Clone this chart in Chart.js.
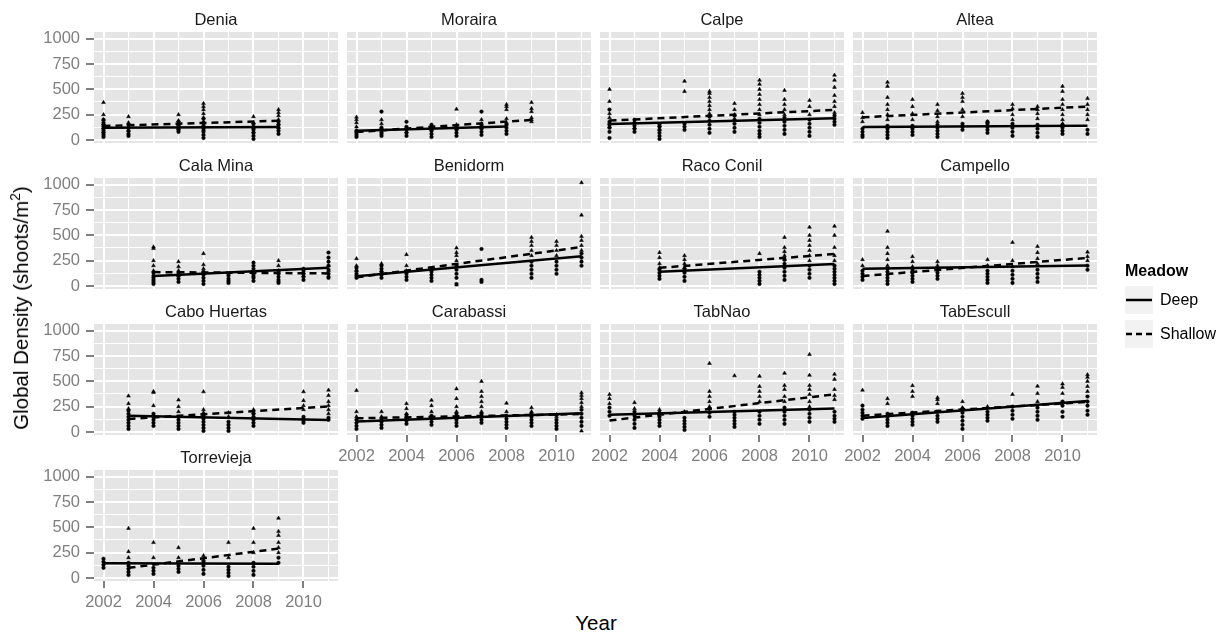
<!DOCTYPE html>
<html><head><meta charset="utf-8">
<script src="https://cdn.jsdelivr.net/npm/chart.js@4"></script>
<style>
body{margin:0;width:1227px;height:637px;background:#fff;position:relative;overflow:hidden;font-family:"Liberation Sans",Arial,sans-serif;}
canvas{position:absolute;}
.strip{position:absolute;font-size:16.5px;color:#1a1a1a;text-align:center;width:244px;line-height:20px;}
.axt{position:absolute;font-size:20.5px;color:#000;white-space:nowrap;}
</style></head><body>
<script>
const sites = ['Denia','Moraira','Calpe','Altea','Cala Mina','Benidorm','Raco Conil','Campello','Cabo Huertas','Carabassi','TabNao','TabEscull','Torrevieja'];
const xTicks = [2002,2003,2004,2005,2006,2007,2008,2009,2010,2011];
const yTicks = [0,125,250,375,500,625,750,875,1000];

// points: [year, [values]] — Deep (circles) and Shallow (triangles)
const deniaDeep = [[2002,[30,50,70,90,110,130,150,170,200]],[2003,[40,60,90,120,150]],[2005,[80,100,120,150,180]],[2006,[20,50,80,110,140,170,210]],[2008,[10,40,70,100,130,160]],[2009,[60,90,120,150,180]]];
const deniaShallow = [[2002,[80,120,160,200,250,370]],[2003,[90,130,170,230]],[2005,[110,150,190,250]],[2006,[100,140,180,220,260,300,330,360]],[2008,[80,120,170,230]],[2009,[120,160,200,240,270,300]]];
const morairaDeep = [[2002,[30,50,70,90]],[2003,[40,60,90,120,280]],[2004,[40,70,100,130,180]],[2005,[30,60,90,120,150]],[2006,[40,70,100,130]],[2007,[50,80,110,140,280]],[2008,[60,90,120,150]]];
const morairaShallow = [[2002,[90,130,170,200,225]],[2003,[80,120,160,200]],[2004,[80,120]],[2005,[100,140]],[2006,[110,150,304]],[2007,[120,160,200]],[2008,[170,210,300,330,350]],[2009,[180,200,220,280,310,370]]];
const calpeDeep = [[2002,[20,80,120,150,180,300]],[2003,[80,110,140,170,200]],[2004,[10,40,70,100,130,150]],[2005,[100,130,160]],[2006,[70,110,150,190,230]],[2007,[80,120,160,200,240]],[2008,[30,60,90,130,170,210]],[2009,[60,100,140,180,220]],[2010,[40,80,120,160,200]],[2011,[150,180,210,240]]];
const calpeShallow = [[2002,[130,170,220,260,380,500]],[2003,[120,170]],[2004,[100,140]],[2005,[480,580]],[2006,[260,300,340,380,420,460,480]],[2007,[200,250,300,360]],[2008,[250,300,350,400,450,500,550,590]],[2009,[250,300,350,400,490]],[2010,[250,330,390]],[2011,[270,330,380,440,520,590,640]]];
const alteaDeep = [[2002,[30,50,80,110]],[2003,[20,50,80,110,140]],[2004,[50,80,110,140]],[2005,[30,60,90,120,150]],[2006,[100,130,160]],[2007,[70,100,130,160,180]],[2008,[40,80,120,160]],[2009,[30,70,110,150]],[2010,[60,90,120,150]],[2011,[60,100]]];
const alteaShallow = [[2002,[180,220,270]],[2003,[200,250,300,350,420,530,570]],[2004,[200,260,330,400]],[2005,[180,230,290,350]],[2006,[230,300,380,420,460]],[2007,[180]],[2008,[200,250,310,350]],[2009,[210,260,300,330]],[2010,[160,200,250,300,350,400,480,530]],[2011,[200,250,300,350,410]]];
const calaMinaDeep = [[2004,[20,40,60,80,100,130]],[2005,[40,70,100,130]],[2006,[20,50,80,110,140]],[2007,[30,50,70,100,120]],[2008,[50,80,110,140,170,200,230]],[2009,[30,60,90,120]],[2010,[60,90,120,150,170]],[2011,[80,120,160,200,240,280,330]]];
const calaMinaShallow = [[2004,[150,200,250,370,385]],[2005,[100,150,190,240]],[2006,[130,170,210,320]],[2008,[100,150]],[2009,[50,150,200,250]],[2010,[100,130]],[2011,[100,150,200]]];
const benidormDeep = [[2002,[80,100,120,150,180]],[2003,[80,110,140,170,200]],[2004,[60,90,120]],[2005,[50,80,110,140,160]],[2006,[20,80,120,160,200]],[2007,[40,60,365]],[2009,[80,120,160,200,240]],[2010,[120,160,200,240]],[2011,[200,240,280,320]]];
const benidormShallow = [[2002,[150,200,270]],[2003,[150,220]],[2004,[150,200,310]],[2006,[10,250,300,330,375]],[2009,[300,350,400,440,480]],[2010,[300,350,400,440]],[2011,[350,400,450,490,700,1020]]];
const racoConilDeep = [[2004,[70,100,130,160]],[2005,[50,90,130,170]],[2008,[20,50,80,110,140]],[2009,[60,100,140,180,220,260]],[2010,[80,120,160,200]],[2011,[20,50,80,110,140,170,200]]];
const racoConilShallow = [[2004,[180,220,280,330]],[2005,[180,220,260,300]],[2008,[320]],[2009,[260,300,340,380,480]],[2010,[250,300,350,400,450,500,580]],[2011,[250,300,380,500,590]]];
const campelloDeep = [[2002,[60,90,120,150]],[2003,[20,50,80,110,140,170]],[2004,[40,70,100,130,160]],[2005,[70,100,130,160]],[2007,[30,60,90,120,150]],[2008,[30,70,110,150]],[2009,[40,80,120,160]],[2011,[160,200]]];
const campelloShallow = [[2002,[200,260]],[2003,[200,260,320,380,540]],[2004,[190,240,290]],[2005,[200,240]],[2007,[200,260]],[2008,[190,250,430]],[2009,[220,270,330,390]],[2011,[250,290,335]]];
const caboHuertasDeep = [[2003,[30,60,90,120,150,180,210]],[2004,[60,90,120,150,180]],[2005,[30,60,90,120,150]],[2006,[10,40,70,100,130,160]],[2007,[10,40,70,100]],[2008,[60,90,120,150,180]],[2010,[90,110,130,150]],[2011,[120,140]]];
const caboHuertasShallow = [[2003,[230,280,355]],[2004,[260,390,400]],[2005,[200,250,316]],[2006,[190,220,397]],[2007,[150,190]],[2008,[190,220]],[2010,[220,260,310,397]],[2011,[180,220,260,300,360,413]]];
const carabassiDeep = [[2002,[30,60,90,120]],[2003,[40,70,100,130]],[2004,[80,110,140,170]],[2005,[70,100,130,160]],[2006,[60,90,120,150,180]],[2007,[90,120,150,180]],[2008,[40,70,100,130,160]],[2009,[60,90,120,150,180]],[2010,[30,60,90,120]],[2011,[60,100,140,180,220]]];
const carabassiShallow = [[2002,[150,200,410]],[2003,[150,200]],[2004,[180,230,280]],[2005,[200,260,313]],[2006,[200,250,330,426]],[2007,[200,250,300,350,400,500]],[2008,[200,284]],[2009,[200,240]],[2010,[150,170]],[2011,[10,250,290,330,360,387]]];
const tabNaoDeep = [[2002,[160,200,240]],[2003,[40,80,120,160,200]],[2004,[60,90,120,150,180]],[2005,[20,50,80,110,140]],[2006,[150,190,230]],[2007,[50,80,110,140,170,200]],[2008,[80,120,160,200]],[2009,[80,120,160,200,240]],[2010,[100,140,180,220]],[2011,[100,130,160,200]]];
const tabNaoShallow = [[2002,[280,330,370]],[2003,[230,290]],[2004,[200,220]],[2005,[200]],[2006,[250,300,350,400,677]],[2007,[555]],[2008,[300,350,400,450,550]],[2009,[300,350,420,460,580]],[2010,[250,300,370,420,460,560,765]],[2011,[320,360,420,520,570]]];
const tabEscullDeep = [[2002,[130,160,190,220,260]],[2003,[60,90,120,150,180]],[2004,[70,100,130,160,190]],[2005,[100,130,160,200]],[2006,[30,70,110,150,190,230]],[2007,[110,140,170,200]],[2008,[130,170,210,250]],[2009,[120,160,200,240]],[2010,[150,200,260,300]],[2011,[170,210,260,300,350]]];
const tabEscullShallow = [[2002,[413]],[2003,[280,329]],[2004,[350,400,458]],[2005,[280,320,339]],[2006,[240,300]],[2007,[250]],[2008,[371]],[2009,[300,380,452]],[2010,[380,440,474]],[2011,[400,450,500,540,565]]];
const torreviejaDeep = [[2002,[100,130,160,190]],[2003,[30,60,90,120,150]],[2004,[40,70,100]],[2005,[60,90,120]],[2006,[40,80,120,160]],[2007,[20,50,80,110]],[2008,[30,70,110,150]],[2009,[150,200]]];
const torreviejaShallow = [[2003,[200,260,490]],[2004,[200,350]],[2005,[200,300]],[2006,[180,220]],[2007,[200,350]],[2008,[250,350,490]],[2009,[250,300,350,420,460,590]]];

// fitted lines: [startYear, startValue, endYear, endValue]
const deepFit = [[2002,120,2009,128],[2002,92,2008,132],[2002,158,2011,215],[2002,128,2011,140],[2004,98,2011,179],[2002,95,2011,293],[2004,140,2011,218],[2002,169,2011,202],[2003,161,2011,119],[2002,103,2011,184],[2002,171,2011,232],[2002,139,2011,306],[2002,145,2009,140]];
const shallowFit = [[2002,138,2009,190],[2002,78,2009,198],[2002,191,2011,297],[2002,224,2011,330],[2004,137,2011,124],[2002,85,2011,384],[2004,179,2011,316],[2002,98,2011,277],[2003,129,2011,252],[2002,135,2011,177],[2002,113,2011,371],[2002,161,2011,297],[2003,100,2009,290]];

const deepPts = [deniaDeep,morairaDeep,calpeDeep,alteaDeep,calaMinaDeep,benidormDeep,racoConilDeep,campelloDeep,caboHuertasDeep,carabassiDeep,tabNaoDeep,tabEscullDeep,torreviejaDeep];
const shallowPts = [deniaShallow,morairaShallow,calpeShallow,alteaShallow,calaMinaShallow,benidormShallow,racoConilShallow,campelloShallow,caboHuertasShallow,carabassiShallow,tabNaoShallow,tabEscullShallow,torreviejaShallow];

const colLeft = [94,347,600,853];
const rowTop = [32,178,324,470];
const PW = 244, PH = 111;
const FONT = '"Liberation Sans", Arial, sans-serif';

const bgPlugin = {
  id:'panelBg',
  beforeDraw(chart){
    const {ctx, chartArea:a} = chart;
    ctx.save(); ctx.fillStyle = '#e5e5e5'; ctx.fillRect(a.left, a.top, a.width, a.height); ctx.restore();
  }
};

function flat(groups){ return groups.flatMap(([yr, vals]) => vals.map(v => ({x:yr, y:v}))); }

sites.forEach((name, i) => {
  const col = i % 4, row = Math.floor(i / 4);
  const hasY = col === 0;
  const hasX = row === 3 || (row === 2 && col > 0);
  const leftExtra = hasY ? 94 : 20;
  const botExtra = hasX ? 36 : 12;
  const cv = document.createElement('canvas');
  cv.width = leftExtra + PW + 20; cv.height = 12 + PH + botExtra;
  cv.style.left = (colLeft[col] - leftExtra) + 'px';
  cv.style.top = (rowTop[row] - 12) + 'px';
  cv.style.width = cv.width + 'px'; cv.style.height = cv.height + 'px';
  document.body.appendChild(cv);

  const strip = document.createElement('div');
  strip.className = 'strip'; strip.textContent = name;
  strip.style.left = colLeft[col] + 'px'; strip.style.top = (rowTop[row] - 23) + 'px';
  document.body.appendChild(strip);

  const df = deepFit[i], sf = shallowFit[i];
  new Chart(cv, {
    type:'scatter',
    data:{ datasets:[
      {data:flat(deepPts[i]), pointStyle:'circle', pointRadius:1.8, backgroundColor:'#000', borderColor:'#000', borderWidth:0.5},
      {data:flat(shallowPts[i]), pointStyle:'triangle', pointRadius:2.2, backgroundColor:'#000', borderColor:'#000', borderWidth:0.5},
      {data:[{x:df[0],y:df[1]},{x:df[2],y:df[3]}], showLine:true, pointRadius:0, borderColor:'#000', borderWidth:2.5},
      {data:[{x:sf[0],y:sf[1]},{x:sf[2],y:sf[3]}], showLine:true, pointRadius:0, borderColor:'#000', borderWidth:2.5, borderDash:[7,5]}
    ]},
    options:{
      responsive:false, maintainAspectRatio:false, animation:false, devicePixelRatio:1,
      events:[],
      layout:{padding:{left: hasY ? 0 : 20, right:20, top:12, bottom: hasX ? 0 : 12}},
      plugins:{legend:{display:false}, tooltip:{enabled:false}},
      scales:{
        x:{ type:'linear', min:2001.62, max:2011.38,
          afterBuildTicks: s => { s.ticks = xTicks.map(v => ({value:v})); },
          afterFit: s => { s.height = hasX ? 36 : 0; s.paddingLeft = 0; s.paddingRight = 0; },
          border:{display:false},
          grid:{ color:'#ffffff', lineWidth: c => (c.tick && c.tick.value % 2 === 0) ? 2 : 1,
            drawTicks: hasX, tickLength:7, tickWidth:2,
            tickColor: c => (c.tick && c.tick.value % 2 === 0) ? '#7f7f7f' : 'rgba(0,0,0,0)' },
          ticks:{ display: hasX, autoSkip:false, maxRotation:0, padding:5, color:'#7f7f7f', font:{family:FONT, size:16.5},
            callback: v => (v % 2 === 0 ? String(v) : '') }
        },
        y:{ type:'linear', min:-30, max:1066,
          afterBuildTicks: s => { s.ticks = yTicks.map(v => ({value:v})); },
          afterFit: s => { s.width = hasY ? 94 : 0; s.paddingTop = 0; s.paddingBottom = 0; },
          border:{display:false},
          grid:{ color:'#ffffff', lineWidth: c => (c.tick && c.tick.value % 250 === 0) ? 2 : 1,
            drawTicks: hasY, tickLength:8, tickWidth:2,
            tickColor: c => (c.tick && c.tick.value % 250 === 0) ? '#7f7f7f' : 'rgba(0,0,0,0)' },
          ticks:{ display: hasY, autoSkip:false, padding:6, color:'#7f7f7f', font:{family:FONT, size:16.5},
            callback: v => (v % 250 === 0 ? String(v) : '') }
        }
      }
    },
    plugins:[bgPlugin]
  });
});
</script>
<div class="axt" style="left:596px;top:611px;transform:translateX(-50%);">Year</div>
<div class="axt" style="left:21px;top:308px;transform:translate(-50%,-50%) rotate(-90deg);">Global Density (shoots/m<sup style="font-size:14px;line-height:0;">2</sup>)</div>
<div style="position:absolute;left:1125px;top:262px;font-size:16px;font-weight:bold;color:#000;">Meadow</div>
<div style="position:absolute;left:1125px;top:286px;width:28px;height:28px;background:#f2f2f2;"></div>
<div style="position:absolute;left:1125px;top:320px;width:28px;height:28px;background:#f2f2f2;"></div>
<svg style="position:absolute;left:1125px;top:286px;" width="28" height="62">
  <line x1="1" y1="14" x2="27" y2="14" stroke="#000" stroke-width="2.5"/>
  <line x1="1" y1="48" x2="27" y2="48" stroke="#000" stroke-width="2.5" stroke-dasharray="6,4"/>
</svg>
<div style="position:absolute;left:1160px;top:291px;font-size:16px;color:#000;">Deep</div>
<div style="position:absolute;left:1160px;top:325px;font-size:16px;color:#000;">Shallow</div>
</body></html>
